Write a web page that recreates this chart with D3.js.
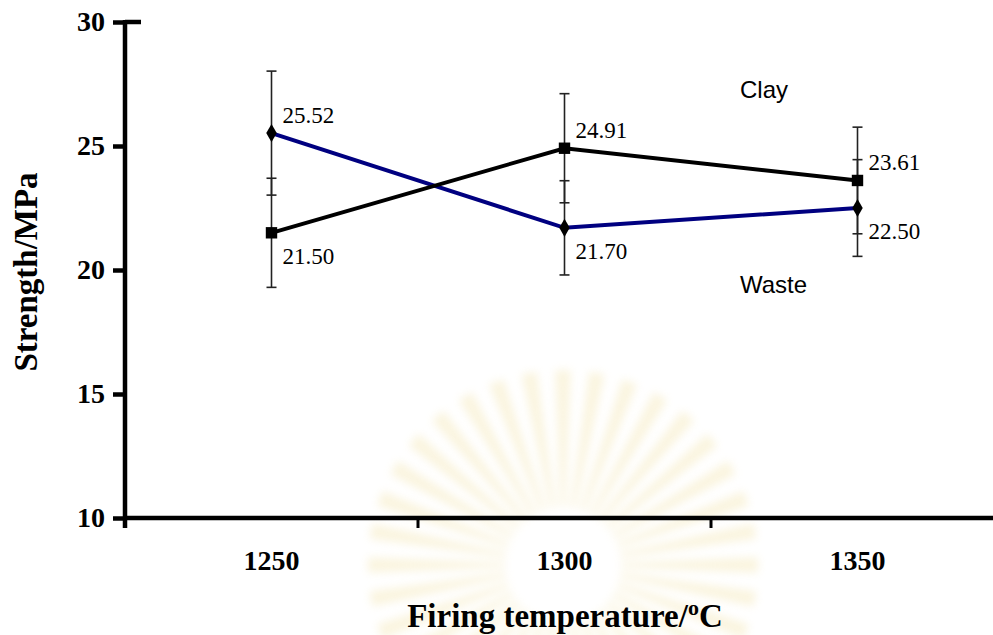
<!DOCTYPE html>
<html>
<head>
<meta charset="utf-8">
<script src="https://cdn.jsdelivr.net/npm/d3@7"></script>
<style>
  html, body { margin: 0; padding: 0; background: #fff; }
  svg { display: block; }
</style>
</head>
<body>
<svg id="chart"></svg>
<script>
const temperatures = [1250, 1300, 1350];
const clayValues = [21.50, 24.91, 23.61];
const clayErrors = [2.2, 2.2, 2.15];
const wasteValues = [25.52, 21.70, 22.50];
const wasteErrors = [2.5, 1.9, 1.95];
const yTicks = [10, 15, 20, 25, 30];

const width = 993, height = 635;
const plotLeft = 125, plotTop = 22, plotBottom = 518;
const bandWidth = 293;

const svg = d3.select('#chart').attr('width', width).attr('height', height);

// faint watermark behind everything
const defs = svg.append('defs');
defs.append('filter').attr('id', 'blur').append('feGaussianBlur').attr('stdDeviation', 4);
const wm = svg.append('g')
  .attr('transform', 'translate(563,565)')
  .attr('opacity', 0.35)
  .attr('filter', 'url(#blur)');
wm.selectAll('path')
  .data(d3.range(36))
  .enter()
  .append('path')
  .attr('d', d3.arc().innerRadius(58).outerRadius(195).startAngle(-0.04).endAngle(0.04))
  .attr('transform', d => `rotate(${d * 10})`)
  .attr('fill', '#f2e2a6');

let x = d3.scaleBand()
  .domain(temperatures)
  .range([plotLeft, plotLeft + bandWidth * temperatures.length]);

let y = d3.scaleLinear()
  .domain([10, 30])
  .range([plotBottom, plotTop]);

const cx = t => x(t) + x.bandwidth() / 2;

// axes
const yAxis = svg.append('g')
  .attr('transform', `translate(${plotLeft},0)`)
  .call(d3.axisLeft(y).tickValues(yTicks).tickSize(12).tickPadding(8));
yAxis.select('.domain').remove();
yAxis.selectAll('line').attr('stroke', '#000').attr('stroke-width', 4.5);
yAxis.selectAll('text')
  .attr('font-family', '"Liberation Serif", "Times New Roman", serif')
  .attr('font-weight', 'bold')
  .attr('font-size', 28)
  .attr('fill', '#000');

svg.append('line')
  .attr('x1', plotLeft).attr('x2', plotLeft)
  .attr('y1', plotTop - 2).attr('y2', plotBottom + 10)
  .attr('stroke', '#000').attr('stroke-width', 4.5);
// top tick crosses the axis
svg.append('line')
  .attr('x1', plotLeft).attr('x2', plotLeft + 16)
  .attr('y1', y(30)).attr('y2', y(30))
  .attr('stroke', '#000').attr('stroke-width', 4.5);

svg.append('line')
  .attr('x1', plotLeft).attr('x2', width)
  .attr('y1', plotBottom).attr('y2', plotBottom)
  .attr('stroke', '#000').attr('stroke-width', 4.5);

svg.selectAll('.xtick')
  .data(temperatures.slice(1))
  .enter()
  .append('line')
  .attr('class', 'xtick')
  .attr('x1', d => x(d)).attr('x2', d => x(d))
  .attr('y1', plotBottom).attr('y2', plotBottom + 10)
  .attr('stroke', '#000').attr('stroke-width', 3);

svg.selectAll('.xlabel')
  .data(temperatures)
  .enter()
  .append('text')
  .attr('class', 'xlabel')
  .attr('x', d => cx(d))
  .attr('y', 570)
  .attr('text-anchor', 'middle')
  .attr('font-family', '"Liberation Serif", "Times New Roman", serif')
  .attr('font-weight', 'bold')
  .attr('font-size', 28)
  .text(d => d);

// axis titles
const xTitle = svg.append('text')
  .attr('x', 565)
  .attr('y', 627)
  .attr('text-anchor', 'middle')
  .attr('font-family', '"Liberation Serif", "Times New Roman", serif')
  .attr('font-weight', 'bold')
  .attr('font-size', 33);
xTitle.append('tspan').text('Firing temperature/');
xTitle.append('tspan').attr('font-size', 22).attr('dy', -12).text('o');
xTitle.append('tspan').attr('dy', 12).text('C');

svg.append('text')
  .attr('transform', 'translate(37,272) rotate(-90)')
  .attr('text-anchor', 'middle')
  .attr('font-family', '"Liberation Serif", "Times New Roman", serif')
  .attr('font-weight', 'bold')
  .attr('font-size', 33)
  .text('Strength/MPa');

// series
const series = [
  { name: 'Waste', values: wasteValues, errors: wasteErrors, color: '#000080', marker: 'diamond', other: clayValues },
  { name: 'Clay', values: clayValues, errors: clayErrors, color: '#000000', marker: 'square', other: wasteValues }
];

// error bars
series.forEach(s => {
  const g = svg.append('g');
  s.values.forEach((v, i) => {
    const px = cx(temperatures[i]);
    const lo = y(v - s.errors[i]), hi = y(v + s.errors[i]);
    g.append('line')
      .attr('x1', px).attr('x2', px).attr('y1', lo).attr('y2', hi)
      .attr('stroke', '#222').attr('stroke-width', 1.6);
    [lo, hi].forEach(yy => {
      g.append('line')
        .attr('x1', px - 5).attr('x2', px + 5).attr('y1', yy).attr('y2', yy)
        .attr('stroke', '#222').attr('stroke-width', 1.6);
    });
  });
});

const line = d3.line()
  .x((d, i) => cx(temperatures[i]))
  .y(d => y(d));

series.forEach(s => {
  svg.append('path')
    .datum(s.values)
    .attr('d', line)
    .attr('fill', 'none')
    .attr('stroke', s.color)
    .attr('stroke-width', 4);
});

series.forEach(s => {
  const sym = s.marker === 'square'
    ? d3.symbol().type(d3.symbolSquare).size(130)
    : d3.symbol().type(d3.symbolDiamond).size(95);
  svg.selectAll(null)
    .data(s.values)
    .enter()
    .append('path')
    .attr('d', sym)
    .attr('transform', (d, i) => `translate(${cx(temperatures[i])},${y(d)})`)
    .attr('fill', '#000');

  svg.selectAll(null)
    .data(s.values)
    .enter()
    .append('text')
    .attr('x', (d, i) => cx(temperatures[i]) + 11)
    .attr('y', (d, i) => y(d) + (d > s.other[i] ? -10 : 31))
    .attr('font-family', '"Liberation Serif", "Times New Roman", serif')
    .attr('font-size', 23)
    .attr('fill', '#000')
    .text(d => d.toFixed(2));
});

// series names
svg.append('text')
  .attr('x', 740).attr('y', 98)
  .attr('font-family', '"Liberation Sans", Arial, sans-serif')
  .attr('font-size', 24)
  .text('Clay');
svg.append('text')
  .attr('x', 740).attr('y', 293)
  .attr('font-family', '"Liberation Sans", Arial, sans-serif')
  .attr('font-size', 24)
  .text('Waste');
</script>
</body>
</html>
